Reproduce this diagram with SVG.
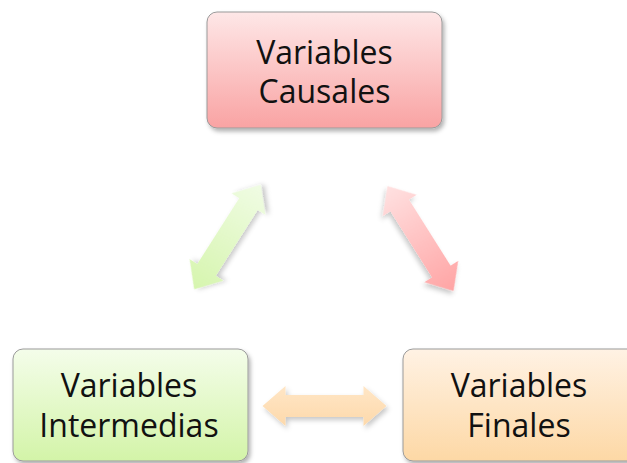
<svg xmlns="http://www.w3.org/2000/svg" width="627" height="463" viewBox="0 0 627 463">
  <defs>
    <linearGradient id="gRed" x1="0" y1="0" x2="0" y2="1">
      <stop offset="0" stop-color="#fee7e7"/>
      <stop offset="1" stop-color="#f9a3a3"/>
    </linearGradient>
    <linearGradient id="gGreen" x1="0" y1="0" x2="0" y2="1">
      <stop offset="0" stop-color="#f4fdea"/>
      <stop offset="1" stop-color="#d3f4a8"/>
    </linearGradient>
    <linearGradient id="gOrange" x1="0" y1="0" x2="0" y2="1">
      <stop offset="0" stop-color="#fff2e4"/>
      <stop offset="1" stop-color="#fdd8a5"/>
    </linearGradient>
    <!-- arrow gradients run along the arrow's own axis -->
    <linearGradient id="aGreen" x1="0" y1="0" x2="1" y2="0">
      <stop offset="0" stop-color="#d6f5ae"/>
      <stop offset="1" stop-color="#f0fce4"/>
    </linearGradient>
    <linearGradient id="aRed" x1="0" y1="0" x2="1" y2="0">
      <stop offset="0" stop-color="#ffe1e1"/>
      <stop offset="1" stop-color="#ffa4a4"/>
    </linearGradient>
    <linearGradient id="aOrange" x1="0" y1="0" x2="0" y2="1">
      <stop offset="0" stop-color="#ffe6c6"/>
      <stop offset="1" stop-color="#fdd9ab"/>
    </linearGradient>
    <filter id="shadow" x="-20%" y="-20%" width="140%" height="140%">
      <feDropShadow dx="2" dy="3" stdDeviation="2" flood-color="#000" flood-opacity="0.3"/>
    </filter>
    <filter id="ashadow" x="-30%" y="-30%" width="160%" height="160%">
      <feDropShadow dx="2" dy="3" stdDeviation="2.5" flood-color="#000" flood-opacity="0.22"/>
    </filter>
    <path id="dblArrow" d="M -62 0 L -39 -20 L -39 -11 L 39 -11 L 39 -20 L 62 0 L 39 20 L 39 11 L -39 11 L -39 20 Z"/>
  </defs>
  <style>
    .box { stroke: #9a9a9a; stroke-width: 1; filter: url(#shadow); }
    .lbl { font-family: "Open Sans", "Liberation Sans", sans-serif; font-size: 32px; fill: #111; text-anchor: middle; }
    .arrow { filter: url(#ashadow); }
  </style>

  <g id="connectors">
    <use href="#dblArrow" class="arrow" fill="url(#aGreen)" transform="translate(227.5 237) rotate(-57.5)"/>
    <use href="#dblArrow" class="arrow" fill="url(#aRed)" transform="translate(420.5 238.5) rotate(57.8)"/>
    <use href="#dblArrow" class="arrow" fill="url(#aOrange)" transform="translate(324.5 406)"/>
  </g>

  <g id="causales">
    <rect class="box" x="207" y="12" width="235" height="116" rx="10" fill="url(#gRed)"/>
    <text class="lbl" x="324.5" y="64">Variables</text>
    <text class="lbl" x="324.5" y="103">Causales</text>
  </g>

  <g id="intermedias">
    <rect class="box" x="13" y="349" width="235" height="112" rx="10" fill="url(#gGreen)"/>
    <text class="lbl" x="129" y="397">Variables</text>
    <text class="lbl" x="129" y="437">Intermedias</text>
  </g>

  <g id="finales">
    <rect class="box" x="403" y="349" width="235" height="112" rx="10" fill="url(#gOrange)"/>
    <text class="lbl" x="519" y="397">Variables</text>
    <text class="lbl" x="519" y="437">Finales</text>
  </g>
</svg>
